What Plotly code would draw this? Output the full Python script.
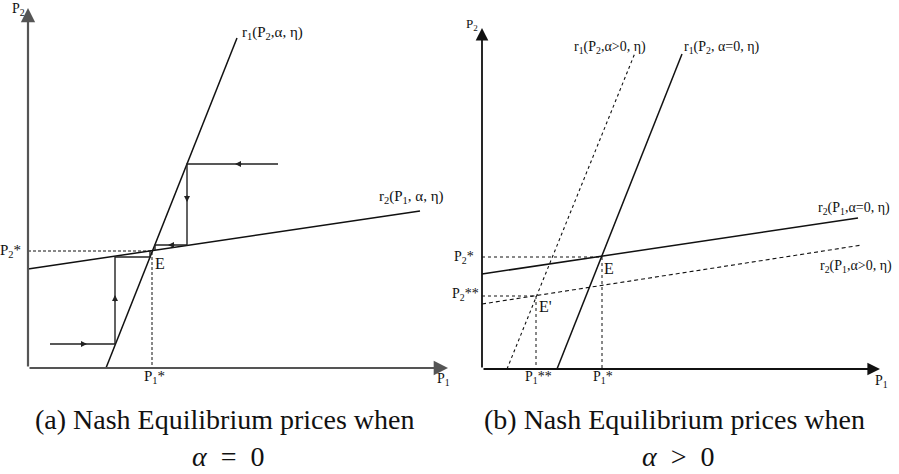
import plotly.graph_objects as go

# ---------------- data (price units) ----------------
# Panel (a): alpha = 0
a_r1_p1 = [1.95, 5.225]
a_r1_p2 = [0.0, 8.25]
a_r2_p1 = [0.0, 9.8]
a_r2_p2 = [2.475, 3.925]
a_eq = (3.1, 2.925)
a_cob_low_p1 = [0.55, 2.175, 2.175, 3.05, 3.05]
a_cob_low_p2 = [0.6, 0.6, 2.775, 2.775, 2.925]
a_cob_up_p1 = [6.25, 3.975, 3.975, 3.175, 3.175]
a_cob_up_p2 = [5.1, 5.1, 3.075, 3.075, 2.95]
# arrows on the cobweb: (head p1, head p2, tail p1, tail p2)
a_cob_arrows = [
    (1.475, 0.6, 1.275, 0.6),
    (2.175, 1.825, 2.175, 1.625),
    (5.175, 5.1, 5.375, 5.1),
    (3.975, 4.15, 3.975, 4.35),
    (3.5, 3.075, 3.7, 3.075),
]
a_xmax, a_ymax = 10.5, 9.0

# Panel (b): alpha > 0
b_r1_0_p1 = [1.875, 5.0]
b_r1_0_p2 = [0.0, 7.875]
b_r1_a_p1 = [0.625, 3.825]
b_r1_a_p2 = [0.0, 7.9]
b_r2_0_p1 = [0.0, 9.4]
b_r2_0_p2 = [2.375, 3.775]
b_r2_a_p1 = [0.0, 9.5]
b_r2_a_p2 = [1.625, 3.1]
b_eq = (3.0, 2.8)
b_eq2 = (1.35, 1.825)
b_xmax, b_ymax = 9.95, 8.525

W, H = 899, 474
FONT = "Liberation Serif"

fig = go.Figure()

def line(x, y, ax, color="#111", width=1.5, dash="solid"):
    xa = "x" if ax == 1 else "x2"
    ya = "y" if ax == 1 else "y2"
    fig.add_trace(go.Scatter(x=x, y=y, mode="lines", xaxis=xa, yaxis=ya,
                             line=dict(color=color, width=width, dash=dash),
                             hoverinfo="skip", showlegend=False))

# ---- panel (a)
line(a_r1_p1, a_r1_p2, 1)
line(a_r2_p1, a_r2_p2, 1)
line([0, a_eq[0], a_eq[0]], [a_eq[1], a_eq[1], 0], 1, width=1, dash="3px,2px")
line(a_cob_low_p1, a_cob_low_p2, 1, color="#222", width=1.4)
line(a_cob_up_p1, a_cob_up_p2, 1, color="#222", width=1.4)

# ---- panel (b)
line(b_r1_0_p1, b_r1_0_p2, 2)
line(b_r1_a_p1, b_r1_a_p2, 2, width=1.1, dash="3px,3px")
line(b_r2_0_p1, b_r2_0_p2, 2)
line(b_r2_a_p1, b_r2_a_p2, 2, width=1.1, dash="4px,3px")
line([0, b_eq[0], b_eq[0]], [b_eq[1], b_eq[1], 0], 2, width=1, dash="3px,3px")
line([0, b_eq2[0], b_eq2[0]], [b_eq2[1], b_eq2[1], 0], 2, width=1, dash="3px,3px")

ann = []

def arrow(hx, hy, tx, ty, ax, color="#111", width=1.2, head=2, size=1.0):
    xr = "x" if ax == 1 else "x2"
    yr = "y" if ax == 1 else "y2"
    ann.append(dict(x=hx, y=hy, ax=tx, ay=ty, xref=xr, yref=yr, axref=xr, ayref=yr,
                    text="", showarrow=True, arrowhead=head, arrowsize=size,
                    arrowwidth=width, arrowcolor=color, standoff=0, startstandoff=0))

def label(x, y, text, ax, size=15, xanchor="center", yanchor="middle"):
    xr = "x" if ax == 1 else "x2"
    yr = "y" if ax == 1 else "y2"
    ann.append(dict(x=x, y=y, xref=xr, yref=yr, text=text, showarrow=False,
                    xanchor=xanchor, yanchor=yanchor,
                    font=dict(family=FONT, size=size, color="#111")))

def starred(x, y, sub, stars, ax, size=15, xanchor="center"):
    label(x, y, "P<sub>%s</sub>%s" % (sub, stars), ax, size=size, xanchor=xanchor)

# axes with arrowheads
arrow(0, a_ymax, 0, 0, 1, color="#555", width=2.2, head=2, size=1.3)
arrow(a_xmax, 0, 0, 0, 1, color="#555", width=2.2, head=2, size=1.3)
arrow(0, b_ymax, 0, 0, 2, color="#111", width=1.8, head=2, size=1.4)
arrow(b_xmax, 0, 0, 0, 2, color="#111", width=1.8, head=2, size=1.4)

# cobweb arrows
for hx, hy, tx, ty in a_cob_arrows:
    arrow(hx, hy, tx, ty, 1, color="#222", width=1.2, head=2, size=1.0)

# labels panel (a)
label(-0.25, 8.975, "P<sub>2</sub>", 1, size=14)
label(10.38, -0.275, "P<sub>1</sub>", 1, size=14)
label(5.3, 8.375, "r<sub>1</sub>(P<sub>2</sub>,α, η)", 1, size=15, xanchor="left")
label(8.725, 4.275, "r<sub>2</sub>(P<sub>1</sub>, α, η)", 1, size=15, xanchor="left")
starred(-0.125, 2.925, "2", "*", 1, size=15, xanchor="right")
label(3.3, 2.625, "E", 1, size=16)
starred(3.15, -0.225, "1", "*", 1, size=15)

# labels panel (b)
label(-0.25, 8.625, "P<sub>2</sub>", 2, size=13)
label(9.975, -0.3, "P<sub>1</sub>", 2, size=14)
label(3.19, 8.05, "r<sub>1</sub>(P<sub>2</sub>,α>0, η)", 2, size=14)
label(5.975, 8.05, "r<sub>1</sub>(P<sub>2</sub>, α=0, η)", 2, size=14)
label(10.25, 4.025, "r<sub>2</sub>(P<sub>1</sub>,α=0, η)", 2, size=14, xanchor="right")
label(10.3, 2.575, "r<sub>2</sub>(P<sub>1</sub>,α>0, η)", 2, size=14, xanchor="right")
starred(-0.15, 2.8, "2", "*", 2, size=14, xanchor="right")
starred(-0.025, 1.875, "2", "**", 2, size=14, xanchor="right")
label(3.175, 2.525, "E", 2, size=16)
label(1.575, 1.575, "E'", 2, size=16)
starred(1.4, -0.2, "1", "**", 2, size=14)
starred(3.025, -0.2, "1", "*", 2, size=14)

# captions
def caption(px, py, text, size=28, xanchor="center"):
    ann.append(dict(x=px / W, y=1 - py / H, xref="paper", yref="paper", text=text,
                    showarrow=False, xanchor=xanchor, yanchor="middle",
                    font=dict(family=FONT, size=size, color="#111")))

caption(33, 419, "(a) Nash Equilibrium prices when", xanchor="left")
caption(228, 456, "<i>α</i>\u2002=\u20020")
caption(482, 419, "(b) Nash Equilibrium prices when", xanchor="left")
caption(678, 456, "<i>α</i>\u2002>\u20020")

# pixel mapping: 40 px per price unit; origins of the two panels
PX = 40.0
a_ox, a_oy = 28, 368
b_ox, b_oy = 482, 369
ax_common = dict(visible=False, showgrid=False, zeroline=False, fixedrange=True)
fig.update_layout(
    width=W, height=H, margin=dict(l=0, r=0, t=0, b=0),
    paper_bgcolor="white", plot_bgcolor="white",
    xaxis=dict(domain=[0, 450 / W], range=[(0 - a_ox) / PX, (450 - a_ox) / PX], **ax_common),
    yaxis=dict(domain=[0, 1], range=[(a_oy - H) / PX, a_oy / PX], **ax_common),
    xaxis2=dict(domain=[450 / W, 1], range=[(450 - b_ox) / PX, (W - b_ox) / PX],
                anchor="y2", **ax_common),
    yaxis2=dict(domain=[0, 1], range=[(b_oy - H) / PX, b_oy / PX], anchor="x2", **ax_common),
    annotations=ann,
    showlegend=False,
)

fig.write_html("out.html", config={"displayModeBar": False},
               post_script="document.body.style.margin='0px';")
